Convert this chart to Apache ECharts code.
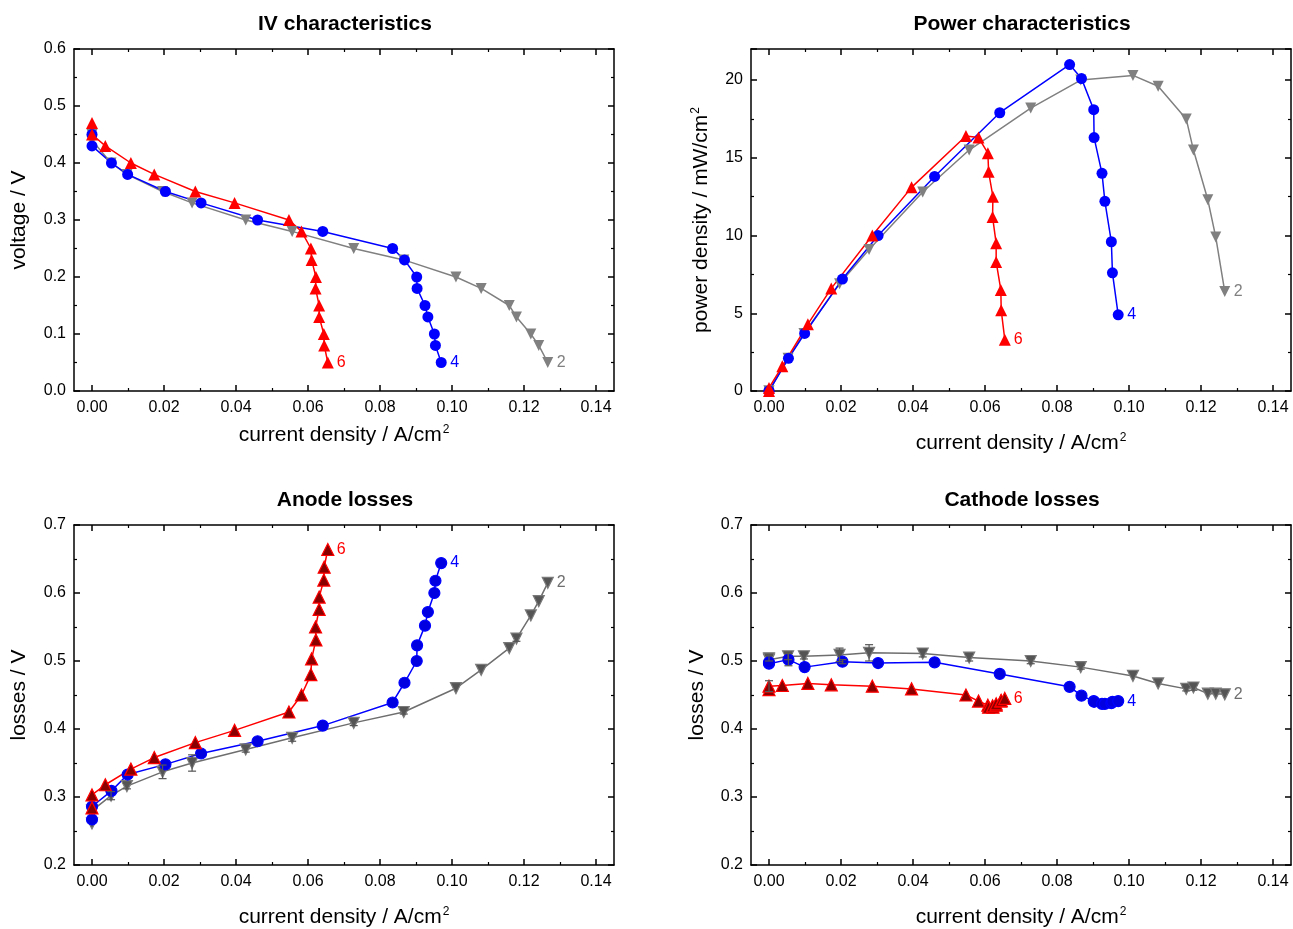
<!DOCTYPE html>
<html>
<head>
<meta charset="utf-8">
<script src="https://cdn.jsdelivr.net/npm/echarts@6/dist/echarts.min.js"></script>
<style>
html,body{margin:0;padding:0;background:#fff;}
#chart{width:1293px;height:929px;}
</style>
</head>
<body>
<div id="chart"></div>
<script>
// ---------- data ----------
const xTicks = [0, 0.02, 0.04, 0.06, 0.08, 0.10, 0.12, 0.14];
const xMinorTicks = [0.01, 0.03, 0.05, 0.07, 0.09, 0.11, 0.13];

// series "6" (red)
const current6 = [0, 0, 0.0037, 0.0108, 0.0173, 0.0287, 0.0396, 0.0547, 0.0582, 0.0608, 0.0610, 0.0622, 0.0621, 0.0631, 0.0631, 0.0644, 0.0645, 0.0655];
const voltage6 = [0.47, 0.45, 0.43, 0.40, 0.38, 0.35, 0.33, 0.30, 0.28, 0.25, 0.23, 0.20, 0.18, 0.15, 0.13, 0.10, 0.08, 0.05];
const power6 = [0, 0.2, 1.6, 4.3, 6.6, 10.0, 13.1, 16.4, 16.3, 15.3, 14.1, 12.5, 11.2, 9.5, 8.3, 6.5, 5.2, 3.3];
const anode6 = [0.284, 0.303, 0.318, 0.341, 0.358, 0.380, 0.398, 0.425, 0.450, 0.480, 0.503, 0.531, 0.550, 0.576, 0.594, 0.619, 0.638, 0.664];
const cathode6 = [0.458, 0.463, 0.464, 0.467, 0.465, 0.463, 0.459, 0.450, 0.441, 0.435, 0.432, 0.432, 0.434, 0.435, 0.437, 0.441, 0.442, 0.445];
const cathode6Err = [0, 0.008, 0, 0, 0, 0, 0, 0, 0, 0, 0, 0, 0, 0, 0, 0, 0, 0];

// series "4" (blue)
const current4 = [0, 0, 0.0054, 0.0099, 0.0204, 0.0303, 0.0460, 0.0641, 0.0835, 0.0868, 0.0902, 0.0903, 0.0925, 0.0933, 0.0951, 0.0954, 0.0970];
const voltage4 = [0.45, 0.43, 0.40, 0.38, 0.35, 0.33, 0.30, 0.28, 0.25, 0.23, 0.20, 0.18, 0.15, 0.13, 0.10, 0.08, 0.05];
const power4 = [0, 0, 2.1, 3.7, 7.2, 10.0, 13.8, 17.9, 21.0, 20.1, 18.1, 16.3, 14.0, 12.2, 9.6, 7.6, 4.9];
const anode4 = [0.267, 0.286, 0.309, 0.333, 0.348, 0.364, 0.382, 0.405, 0.439, 0.468, 0.500, 0.523, 0.552, 0.572, 0.600, 0.618, 0.644];
const cathode4 = [0.496, 0.498, 0.502, 0.491, 0.499, 0.497, 0.498, 0.481, 0.462, 0.449, 0.441, 0.440, 0.437, 0.437, 0.438, 0.440, 0.441];
const cathode4Err = [0, 0, 0.009, 0, 0.003, 0, 0, 0, 0, 0, 0, 0, 0, 0, 0, 0, 0];

// series "2" (grey)
const current2 = [0, 0, 0.0053, 0.0097, 0.0196, 0.0278, 0.0427, 0.0556, 0.0727, 0.0866, 0.1011, 0.1081, 0.1159, 0.1179, 0.1219, 0.1241, 0.1266];
const voltage2 = [0.45, 0.44, 0.40, 0.38, 0.35, 0.33, 0.30, 0.28, 0.25, 0.23, 0.20, 0.18, 0.15, 0.13, 0.10, 0.08, 0.05];
const power2 = [0, 0, 2.1, 3.7, 6.9, 9.1, 12.8, 15.5, 18.2, 20.0, 20.3, 19.6, 17.5, 15.5, 12.3, 9.9, 6.4];
const anode2 = [0.261, 0.280, 0.302, 0.316, 0.337, 0.350, 0.370, 0.387, 0.409, 0.425, 0.460, 0.487, 0.519, 0.533, 0.567, 0.588, 0.615];
const anode2Err = [0, 0, 0.006, 0.004, 0.010, 0.012, 0.004, 0.005, 0.004, 0.003, 0, 0, 0, 0.004, 0, 0, 0];
const cathode2 = [0.502, 0.504, 0.507, 0.507, 0.509, 0.512, 0.511, 0.505, 0.500, 0.491, 0.478, 0.467, 0.459, 0.461, 0.452, 0.452, 0.451];
const cathode2Err = [0, 0.004, 0.005, 0.004, 0.010, 0.012, 0.005, 0.005, 0.004, 0.003, 0, 0, 0.003, 0.004, 0, 0, 0];

const titles = ['IV characteristics', 'Power characteristics', 'Anode losses', 'Cathode losses'];
const yNames = ['voltage / V', 'power density / mW/cm{sup|2}', 'losses / V', 'losses / V'];
const xName = 'current density / A/cm{sup|2}';

// ---------- layout ----------
const FONT = 'Liberation Sans, Arial, Helvetica, sans-serif';
const grids = [
  {left: 74, top: 49, width: 540, height: 342},
  {left: 751, top: 49, width: 540, height: 342},
  {left: 74, top: 525, width: 540, height: 342},
  {left: 751, top: 525, width: 540, height: 342}
];
const yCfg = [
  {min: 0, max: 0.6, interval: 0.1, dec: 1, nameGap: 44},
  {min: 0, max: 22, interval: 5, dec: 0, nameGap: 38},
  {min: 0.2, max: 0.7, interval: 0.1, dec: 1, nameGap: 44},
  {min: 0.2, max: 0.7, interval: 0.1, dec: 1, nameGap: 43}
];
const xNameGaps = [33, 41, 41, 41];

const RED = '#ff0000', BLUE = '#0000ff', GREY = '#808080';
const lineW = 1.5;
const nameStyle = {
  fontFamily: FONT, fontSize: 21, color: '#000',
  rich: {sup: {fontFamily: FONT, fontSize: 12, color: '#000', verticalAlign: 'top', padding: [0, 0, 11, 1]}}
};

const xAxis = [], yAxis = [], series = [], title = [];

grids.forEach((g, gi) => {
  title.push({
    text: titles[gi], left: g.left + g.width / 2 - 4, top: g.top - 40, textAlign: 'center',
    textStyle: {fontFamily: FONT, fontSize: 21, fontWeight: 'bold', color: '#000'}
  });
  const baseX = {type: 'value', gridIndex: gi, min: -0.005, max: 0.145, splitLine: {show: false}};
  // bottom main
  xAxis.push(Object.assign({}, baseX, {
    position: 'bottom',
    name: xName, nameLocation: 'middle', nameGap: xNameGaps[gi],
    nameTextStyle: nameStyle,
    axisLine: {onZero: false, lineStyle: {color: '#000', width: 1.5}},
    axisTick: {inside: true, length: 6, customValues: xTicks, lineStyle: {color: '#000', width: 1.5}},
    axisLabel: {customValues: xTicks, formatter: v => v.toFixed(2), fontFamily: FONT, fontSize: 16, color: '#000', margin: 9}
  }));
  // bottom minor
  xAxis.push(Object.assign({}, baseX, {
    position: 'bottom',
    axisLine: {show: false, onZero: false},
    axisTick: {inside: true, length: 3, customValues: xMinorTicks, lineStyle: {color: '#000', width: 1.2}},
    axisLabel: {show: false}
  }));
  // top main
  xAxis.push(Object.assign({}, baseX, {
    position: 'top',
    axisLine: {onZero: false, lineStyle: {color: '#000', width: 1.5}},
    axisTick: {inside: true, length: 6, customValues: xTicks, lineStyle: {color: '#000', width: 1.5}},
    axisLabel: {show: false}
  }));
  // top minor
  xAxis.push(Object.assign({}, baseX, {
    position: 'top',
    axisLine: {show: false, onZero: false},
    axisTick: {inside: true, length: 3, customValues: xMinorTicks, lineStyle: {color: '#000', width: 1.2}},
    axisLabel: {show: false}
  }));

  const yc = yCfg[gi];
  const baseY = {
    type: 'value', gridIndex: gi, min: yc.min, max: yc.max, interval: yc.interval,
    splitLine: {show: false}, minorSplitLine: {show: false},
    axisLine: {onZero: false, lineStyle: {color: '#000', width: 1.5}},
    axisTick: {inside: true, length: 6, lineStyle: {color: '#000', width: 1.5}},
    minorTick: {show: true, splitNumber: 2, length: 3, lineStyle: {color: '#000', width: 1.2}}
  };
  yAxis.push(Object.assign({}, baseY, {
    position: 'left',
    name: yNames[gi], nameLocation: 'middle', nameGap: yc.nameGap, nameRotate: 90,
    nameTextStyle: nameStyle,
    axisLabel: {formatter: v => v.toFixed(yc.dec), fontFamily: FONT, fontSize: 16, color: '#000', margin: 8, showMaxLabel: gi !== 1}
  }));
  yAxis.push(Object.assign({}, baseY, {
    position: 'right',
    axisLabel: {show: false}
  }));
});

function mkLine(gi, xs, ys, color, symbol, rotate, size, label, fill, border) {
  return {
    type: 'line', xAxisIndex: gi * 4, yAxisIndex: gi * 2,
    data: xs.map((x, i) => [x, ys[i]]),
    symbol: symbol, symbolRotate: rotate, symbolSize: size,
    showAllSymbol: true, animation: false, z: 3,
    lineStyle: {color: color, width: lineW},
    itemStyle: {color: fill || color, borderColor: border || color, borderWidth: border ? 1.2 : 0, opacity: 1},
    endLabel: {show: true, formatter: label, color: color, fontFamily: FONT, fontSize: 16, distance: 9},
    emphasis: {disabled: true}
  };
}

function mkErr(gi, xs, ys, errs, color) {
  const data = [];
  xs.forEach((x, i) => { if (errs[i] > 0) data.push([x, ys[i] - errs[i], ys[i] + errs[i]]); });
  return {
    type: 'custom', xAxisIndex: gi * 4, yAxisIndex: gi * 2, z: 4, animation: false,
    data: data,
    renderItem: (params, api) => {
      const x = api.value(0);
      const p1 = api.coord([x, api.value(1)]);
      const p2 = api.coord([x, api.value(2)]);
      const w = 4;
      const st = {stroke: color, lineWidth: 1.2};
      return {type: 'group', children: [
        {type: 'line', shape: {x1: p1[0], y1: p1[1], x2: p2[0], y2: p2[1]}, style: st},
        {type: 'line', shape: {x1: p1[0] - w, y1: p1[1], x2: p1[0] + w, y2: p1[1]}, style: st},
        {type: 'line', shape: {x1: p2[0] - w, y1: p2[1], x2: p2[0] + w, y2: p2[1]}, style: st}
      ]};
    }
  };
}

// panel 1: IV
series.push(mkLine(0, current2, voltage2, GREY, 'triangle', 180, 11, '2'));
series.push(mkLine(0, current4, voltage4, BLUE, 'circle', 0, 11, '4'));
series.push(mkLine(0, current6, voltage6, RED, 'triangle', 0, 12, '6'));
// panel 2: power
series.push(mkLine(1, current2, power2, GREY, 'triangle', 180, 11, '2'));
series.push(mkLine(1, current4, power4, BLUE, 'circle', 0, 11, '4'));
series.push(mkLine(1, current6, power6, RED, 'triangle', 0, 12, '6'));
// panel 3: anode
series.push(mkLine(2, current2, anode2, '#6e6e6e', 'triangle', 180, 11, '2', '#555555', '#7a7a7a'));
series.push(mkLine(2, current4, anode4, BLUE, 'circle', 0, 11, '4', '#0000e0', BLUE));
series.push(mkLine(2, current6, anode6, RED, 'triangle', 0, 12, '6', '#8a0000', RED));
series.push(mkErr(2, current2, anode2, anode2Err, '#555555'));
// panel 4: cathode
series.push(mkLine(3, current2, cathode2, '#6e6e6e', 'triangle', 180, 11, '2', '#555555', '#7a7a7a'));
series.push(mkLine(3, current4, cathode4, BLUE, 'circle', 0, 11, '4', '#0000e0', BLUE));
series.push(mkLine(3, current6, cathode6, RED, 'triangle', 0, 12, '6', '#8a0000', RED));
series.push(mkErr(3, current2, cathode2, cathode2Err, '#555555'));
series.push(mkErr(3, current4, cathode4, cathode4Err, '#555555'));
series.push(mkErr(3, current6, cathode6, cathode6Err, '#555555'));

const chart = echarts.init(document.getElementById('chart'), null, {renderer: 'canvas'});
chart.setOption({
  backgroundColor: '#ffffff',
  animation: false,
  textStyle: {fontFamily: FONT},
  title: title,
  grid: grids.map(g => Object.assign({containLabel: false}, g)),
  xAxis: xAxis,
  yAxis: yAxis,
  series: series
});
</script>
</body>
</html>
